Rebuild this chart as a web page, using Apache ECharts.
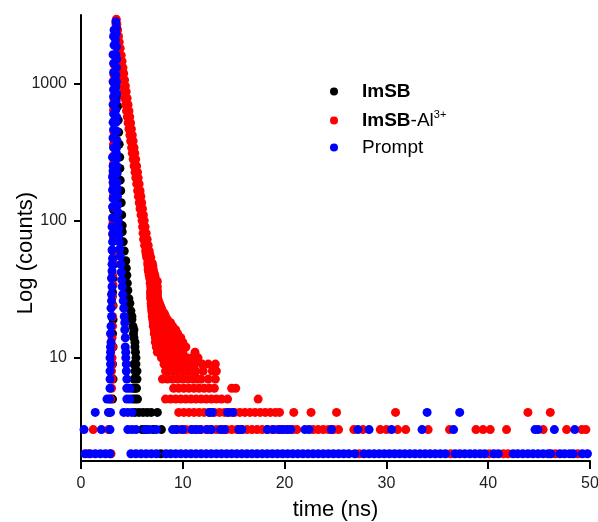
<!DOCTYPE html>
<html>
<head>
<meta charset="utf-8">
<script src="https://cdn.jsdelivr.net/npm/echarts@6/dist/echarts.min.js"></script>
<style>
  html, body { margin: 0; padding: 0; background: #ffffff; }
  #chart { width: 598px; height: 522px; }
</style>
</head>
<body>
<div id="chart"></div>
<script>
// Each row: [count, t1, t2, ...]  (time in ns where that count was recorded)
const seriesNames = ['ImSB', 'ImSB-Al3+', 'Prompt'];
const xTicks = [0, 10, 20, 30, 40, 50];
const yTickLabels = [10, 100, 1000];

const imsbRows = [
  [2, 7.85],
  [3, 6.0, 6.4, 7.1, 7.9],
  [4, 5.3, 5.7, 6.1, 6.5, 6.9, 7.5],
  [5, 3.1, 5.1, 5.35, 5.55],
  [6, 5.1, 5.3, 5.45],
  [7, 3.15, 5.2, 5.5],
  [8, 5.3, 5.5],
  [9, 3.1, 5.2, 5.4],
  [10, 5.4],
  [11, 5.35],
  [12, 3.15, 5.3],
  [13, 5.3],
  [14, 5.2],
  [15, 3.1, 5.15],
  [16, 5.2],
  [17, 5.1],
  [19, 3.15, 5.0],
  [20, 5.0],
  [22, 4.9],
  [24, 3.15],
  [25, 4.8],
  [27, 4.7],
  [30, 3.1],
  [31, 4.6],
  [35, 4.55],
  [38, 3.15],
  [40, 4.5],
  [45, 4.45],
  [48, 3.2],
  [51, 4.4],
  [60, 3.15, 4.25],
  [70, 4.15],
  [75, 3.2],
  [83, 4.05],
  [92, 4.05],
  [95, 3.15],
  [110, 4.0],
  [120, 3.2],
  [135, 3.95],
  [150, 3.2],
  [165, 3.9],
  [190, 3.25],
  [197, 3.85],
  [240, 3.82],
  [250, 3.2],
  [290, 3.25, 3.8],
  [350, 3.25],
  [360, 3.75],
  [430, 3.3],
  [440, 3.7],
  [540, 3.3, 3.66],
  [680, 3.35, 3.6],
  [800, 3.55],
  [850, 3.35],
  [940, 3.45],
  [1000, 3.4, 3.5],
  [1100, 3.45]
];

const imsbAlRows = [
  [2, 0.7, 2.95, 27.35, 36.3, 40.1, 41.5, 41.95, 46.6, 48.8],
  [3, 1.2, 2.7, 9.3, 9.8, 10.3, 10.8, 11.3, 11.8, 12.3, 12.8, 13.3, 13.8, 14.3, 14.8, 15.3, 15.8, 16.3, 16.8, 17.3, 17.8, 18.3, 18.8, 19.3, 19.8, 20.3, 20.8, 21.2, 22.8, 23.3, 23.8, 24.3, 24.8, 25.3, 26.8, 27.7, 29.4, 30.0, 31.1, 31.9, 34.1, 36.2, 38.8, 39.5, 40.2, 41.8, 45.4, 47.7, 49.2, 49.6],
  [4, 2.75, 9.6, 10.1, 10.6, 11.1, 11.6, 12.1, 12.6, 13.1, 13.6, 14.1, 14.6, 15.1, 15.6, 16.1, 16.6, 17.1, 17.6, 18.1, 18.6, 19.1, 19.5, 20.9, 22.6, 25.1, 30.9, 43.9, 46.1],
  [5, 2.9, 8.3, 8.8, 9.3, 9.8, 10.3, 10.8, 11.3, 11.8, 12.3, 12.8, 13.3, 13.8, 14.4, 17.4],
  [6, 3.0, 9.1, 9.6, 10.1, 10.6, 11.1, 11.6, 12.1, 12.6, 13.1, 14.8, 15.2],
  [7, 3.05, 8.0, 8.5, 9.0, 9.5, 10.0, 10.5, 11.0, 11.4, 11.8, 12.5, 13.2],
  [8, 3.0, 8.3, 8.8, 9.3, 9.8, 10.3, 10.8, 11.3, 12.0, 12.9, 13.3],
  [9, 3.05, 8.15, 8.65, 9.15, 9.65, 10.15, 10.65, 11.15, 11.9, 12.5, 13.2],
  [10, 3.05, 7.9, 8.4, 8.9, 9.4, 9.9, 10.4, 10.9, 11.5],
  [11, 7.5, 8.0, 8.5, 9.0, 9.5, 10.0, 11.2],
  [12, 3.1, 7.4, 7.9, 8.4, 8.9, 9.4, 9.9, 10.3],
  [13, 7.3, 7.8, 8.3, 8.8, 9.3, 9.7, 10.0],
  [14, 3.05, 7.3, 7.8, 8.3, 8.8, 9.3, 9.8],
  [15, 7.2, 7.7, 8.2, 8.7, 9.1, 9.5],
  [16, 7.2, 7.7, 8.2, 8.7, 9.0, 9.3],
  [17, 3.1, 7.1, 7.6, 8.1, 8.6, 9.0],
  [18, 7.1, 7.55, 8.0, 8.4, 8.8],
  [19, 7.05, 7.5, 8.0, 8.5],
  [20, 3.1, 7.0, 7.45, 7.9, 8.3],
  [21, 7.0, 7.4, 7.8, 8.2],
  [22, 6.95, 7.45, 8.0],
  [23, 6.95, 7.4, 7.9],
  [24, 3.1, 6.9, 7.35, 7.8],
  [25, 6.9, 7.3, 7.7],
  [26, 6.9, 7.25, 7.6],
  [27, 6.85, 7.2, 7.55],
  [28, 3.1, 6.85, 7.2, 7.5],
  [29, 6.85, 7.2, 7.5],
  [30, 6.85, 7.2, 7.5],
  [31, 6.85, 7.2, 7.5],
  [33, 6.85, 7.2, 7.5],
  [34, 3.15],
  [35, 6.8, 7.1, 7.4],
  [36, 6.85, 7.2, 7.5],
  [38, 6.75, 7.05, 7.3],
  [40, 3.1, 6.7, 7.0, 7.25],
  [42, 6.65, 6.9, 7.15],
  [44, 6.6, 6.85, 7.1],
  [47, 6.58, 6.8, 7.05],
  [49, 6.55, 6.8, 7.0],
  [50, 3.15],
  [54, 6.45, 6.65, 6.85],
  [57, 6.4, 6.75],
  [60, 3.15, 6.35, 6.7],
  [66, 6.25, 6.6],
  [73, 6.15, 6.5],
  [75, 3.2],
  [81, 6.1, 6.4],
  [90, 3.15, 6.05, 6.3],
  [100, 3.15, 6.0, 6.21],
  [110, 5.9, 6.13],
  [122, 5.8, 6.04],
  [125, 3.2],
  [135, 5.72, 5.96],
  [150, 3.2, 5.64, 5.88],
  [165, 5.56, 5.8],
  [180, 3.2],
  [185, 5.47, 5.71],
  [205, 5.38, 5.62],
  [215, 3.15],
  [225, 5.31, 5.55],
  [250, 5.22, 5.46],
  [260, 3.2],
  [280, 5.13, 5.37],
  [300, 3.25],
  [310, 5.04, 5.28],
  [340, 4.97, 5.21],
  [360, 3.2],
  [380, 4.88, 5.12],
  [420, 4.8, 5.04],
  [440, 3.25],
  [465, 4.71, 4.95],
  [515, 4.63, 4.87],
  [520, 3.25],
  [570, 4.55, 4.79],
  [630, 4.47, 4.71],
  [640, 3.2],
  [700, 4.38, 4.62],
  [760, 3.25],
  [780, 4.29, 4.53],
  [870, 4.2, 4.44],
  [900, 3.3],
  [960, 4.12, 4.36],
  [1000, 3.25],
  [1060, 4.04, 4.28],
  [1150, 3.25],
  [1180, 3.95, 4.19],
  [1300, 3.88, 4.12],
  [1350, 3.3],
  [1450, 3.79, 4.03],
  [1600, 3.3, 3.71, 3.95],
  [1800, 3.61, 3.85],
  [1900, 3.35],
  [2000, 3.52, 3.76],
  [2200, 3.35, 3.45, 3.69],
  [2450, 3.4, 3.6],
  [2700, 3.45, 3.52],
  [2930, 3.47]
];

const promptRows = [
  [2, 0.4, 0.9, 1.4, 1.9, 2.4, 2.85, 4.9, 5.4, 5.9, 6.4, 6.9, 7.4, 8.35, 8.8, 9.3, 9.8, 10.3, 10.8, 11.3, 11.8, 12.3, 12.8, 13.3, 13.8, 14.3, 14.8, 15.3, 15.8, 16.3, 16.8, 17.3, 17.8, 18.3, 18.8, 19.3, 19.8, 20.3, 20.8, 21.3, 21.8, 22.3, 22.8, 23.3, 23.8, 24.3, 24.8, 25.3, 25.8, 26.3, 26.9, 27.8, 28.3, 28.8, 29.3, 29.8, 30.3, 30.8, 31.3, 31.8, 32.3, 32.8, 33.3, 33.8, 34.3, 34.8, 35.3, 35.8, 36.75, 37.2, 37.7, 38.2, 38.7, 39.2, 39.65, 40.55, 41.0, 42.45, 42.9, 43.4, 43.9, 44.4, 44.9, 45.4, 45.9, 46.15, 47.05, 47.5, 48.0, 48.35, 49.25, 49.75],
  [3, 0.3, 2.0, 2.85, 4.6, 5.0, 5.4, 6.3, 6.7, 7.4, 9.0, 9.4, 10.0, 10.9, 11.3, 11.7, 12.4, 12.8, 13.7, 14.1, 15.5, 15.8, 18.3, 18.9, 19.5, 19.8, 20.2, 20.6, 22.0, 22.4, 24.6, 27.2, 28.3, 30.5, 33.5, 36.6, 44.6, 44.9, 46.5, 48.5],
  [4, 1.4, 2.7, 2.9, 4.2, 4.6, 5.0, 12.6, 12.9, 14.4, 14.9, 34.0, 37.2],
  [5, 2.55, 2.8, 4.5, 4.8],
  [6, 2.85, 4.5, 4.8],
  [7, 2.85, 4.5],
  [8, 2.85, 4.45],
  [9, 2.9, 4.45],
  [10, 2.85, 4.4],
  [11, 2.9, 4.4],
  [12, 2.9, 4.35],
  [13, 2.95],
  [14, 4.35],
  [15, 2.9],
  [16, 4.3],
  [17, 2.95],
  [18, 4.3],
  [20, 3.0, 4.25],
  [23, 2.95, 4.2],
  [26, 3.0, 4.15],
  [29, 3.0, 4.1],
  [33, 3.05, 4.05],
  [37, 4.0],
  [38, 3.0],
  [42, 3.95],
  [43, 3.05],
  [48, 3.05, 3.9],
  [53, 3.1],
  [55, 3.85],
  [61, 3.05],
  [62, 3.8],
  [70, 3.1, 3.75],
  [78, 3.72],
  [80, 3.1],
  [88, 3.7],
  [90, 3.05],
  [100, 3.66],
  [105, 3.1],
  [115, 3.62],
  [126, 3.1],
  [130, 3.6],
  [145, 3.15],
  [150, 3.58],
  [167, 3.1],
  [170, 3.56],
  [190, 3.15, 3.55],
  [208, 3.1],
  [220, 3.55],
  [230, 3.15],
  [250, 3.15, 3.52],
  [285, 3.52],
  [290, 3.1],
  [310, 3.48],
  [340, 3.2, 3.5],
  [385, 3.52],
  [400, 3.15],
  [450, 3.48],
  [460, 3.2],
  [520, 3.15, 3.45],
  [570, 3.5],
  [600, 3.2],
  [640, 3.42],
  [700, 3.15],
  [740, 3.45],
  [800, 3.2],
  [840, 3.5],
  [900, 3.2],
  [950, 3.42],
  [1030, 3.15, 3.48],
  [1150, 3.42],
  [1200, 3.2],
  [1300, 3.48],
  [1400, 3.2],
  [1500, 3.5],
  [1620, 3.15, 3.42],
  [1850, 3.48],
  [1900, 3.25],
  [2075, 3.4],
  [2200, 3.2],
  [2300, 3.45],
  [2450, 3.25],
  [2550, 3.48],
  [2810, 3.42]
];

function toPairs(rows) {
  const out = [];
  rows.forEach(function (r) {
    for (let i = 1; i < r.length; i++) out.push([r[i], r[0]]);
  });
  return out;
}

const FONT = "'Liberation Sans', Arial, Helvetica, sans-serif";
const chart = echarts.init(document.getElementById('chart'), null, { renderer: 'canvas', width: 598, height: 522 });

function scatter(name, rows, color) {
  return {
    name: name,
    type: 'scatter',
    data: toPairs(rows),
    symbol: 'circle',
    symbolSize: 9,
    itemStyle: { color: color, opacity: 1 },
    emphasis: { disabled: true },
    animation: false
  };
}

chart.setOption({
  backgroundColor: '#ffffff',
  animation: false,
  grid: { left: 81, right: 8, top: 15, bottom: 61, containLabel: false, outerBoundsMode: 'none' },
  legend: {
    orient: 'vertical',
    left: 325,
    top: 77,
    icon: 'circle',
    itemWidth: 46,
    itemHeight: 8,
    itemGap: 8,
    data: seriesNames,
    selectedMode: false,
    textStyle: {
      fontFamily: FONT,
      fontSize: 19,
      color: '#000',
      rich: {
        b: { fontFamily: FONT, fontSize: 19, fontWeight: 'bold', color: '#000', lineHeight: 23 },
        n: { fontFamily: FONT, fontSize: 19, color: '#000', lineHeight: 23 },
        s: { fontFamily: FONT, fontSize: 11, color: '#000', lineHeight: 11, verticalAlign: 'top' }
      }
    },
    formatter: function (name) {
      if (name === 'ImSB') return '{b|ImSB}';
      if (name === 'ImSB-Al3+') return '{b|ImSB}{n|-Al}{s|3+}';
      return '{n|' + name + '}';
    }
  },
  xAxis: {
    type: 'value',
    min: xTicks[0],
    max: xTicks[xTicks.length - 1],
    interval: 10,
    name: 'time (ns)',
    nameLocation: 'middle',
    nameGap: 38,
    nameMoveOverlap: false,
    nameTextStyle: { fontFamily: FONT, fontSize: 22, color: '#000' },
    axisLine: { show: true, lineStyle: { color: '#000', width: 2 } },
    axisTick: { show: true, inside: false, length: 8, lineStyle: { color: '#000', width: 2 } },
    axisLabel: { fontFamily: FONT, fontSize: 16, color: '#222', margin: 15 },
    splitLine: { show: false }
  },
  yAxis: {
    type: 'log',
    logBase: 10,
    min: 1.77,
    max: 3150,
    name: 'Log (counts)',
    nameLocation: 'middle',
    nameRotate: 90,
    nameGap: 44,
    nameMoveOverlap: false,
    nameTextStyle: { fontFamily: FONT, fontSize: 22, color: '#000', padding: [0, 30, 0, 0] },
    axisLine: { show: true, lineStyle: { color: '#000', width: 2 } },
    axisTick: { show: true, inside: false, length: 7, lineStyle: { color: '#000', width: 2 }, customValues: yTickLabels },
    axisLabel: {
      fontFamily: FONT, fontSize: 16, color: '#222', margin: 14,
      customValues: yTickLabels,
      formatter: function (v) {
        const r = Math.round(v);
        return yTickLabels.indexOf(r) >= 0 ? String(r) : '';
      }
    },
    splitLine: { show: false },
    minorTick: { show: false }
  },
  series: [
    scatter(seriesNames[0], imsbRows, '#000000'),
    scatter(seriesNames[1], imsbAlRows, '#ff0000'),
    scatter(seriesNames[2], promptRows, '#0000ff')
  ]
});
</script>
</body>
</html>
